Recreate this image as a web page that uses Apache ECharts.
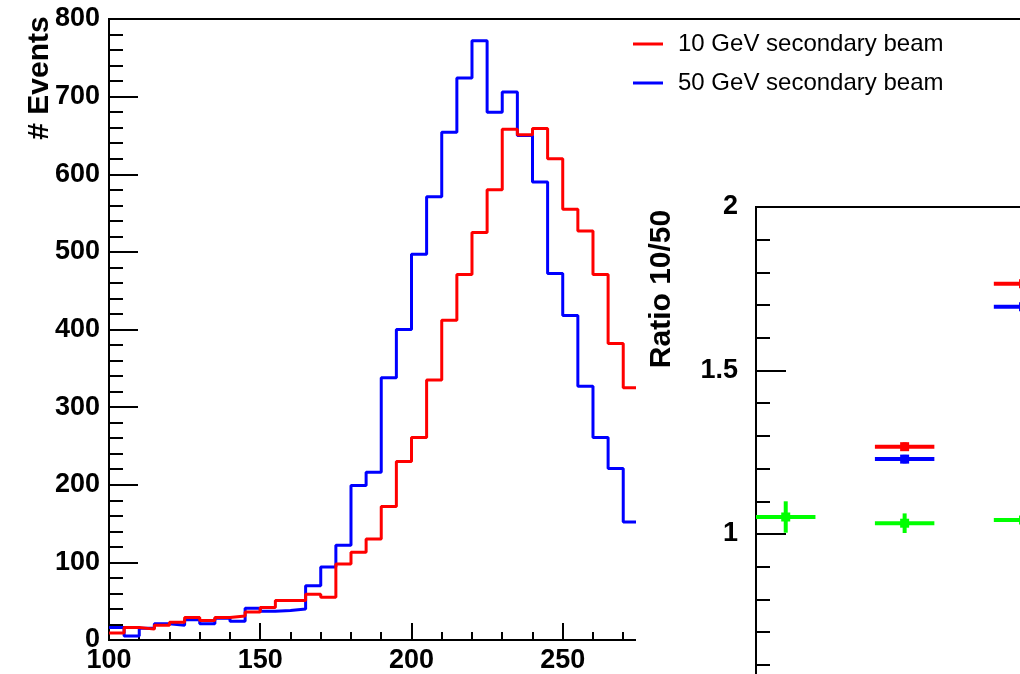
<!DOCTYPE html>
<html>
<head>
<meta charset="utf-8">
<script src="https://cdn.jsdelivr.net/npm/echarts@6/dist/echarts.min.js"></script>
<style>
html,body{margin:0;padding:0;background:#fff;}
#chart{width:1020px;height:674px;}
</style>
</head>
<body>
<div id="chart"></div>
<script>
// ---- data ----
const binStart = [100,105,110,115,120,125,130,135,140,145,150,155,160,165,170,175,180,185,190,195,200,205,210,215,220,225,230,235,240,245,250,255,260,265,270];
const binWidth = 5;
const events10GeV = [9,16,14,19,23,29,25,29,31,36,42,51,51,59,55,98,113,130,172,230,261,335,412,471,525,580,658,651,659,620,555,527,471,382,325];
const events50GeV = [16,5,15,21,19,26,21,28,24,41,37,38,40,70,94,122,199,216,338,400,497,571,654,724,772,680,706,650,590,472,418,327,261,221,152];

const ratioX = [1, 2, 3];
const ratioXErr = 0.25;
const ratioGreen = [1.052, 1.033, 1.043];
const ratioGreenErr = [0.048, 0.030, 0.030];
const ratioRed = [null, 1.267, 1.765];
const ratioRedErr = [null, 0.013, 0.013];
const ratioBlue = [null, 1.229, 1.695];
const ratioBlueErr = [null, 0.013, 0.013];
const ratioYTicks = [1, 1.5, 2];

const names = ['10 GeV secondary beam', '50 GeV secondary beam'];

// ---- helpers ----
function histData(vals) {
  const d = binStart.map((x, i) => [x, vals[i]]);
  d.push([binStart[binStart.length - 1] + binWidth, vals[vals.length - 1]]);
  return d;
}
function errData(ys, errs) {
  const out = [];
  ratioX.forEach((x, i) => { if (ys[i] != null) out.push([x, ys[i], errs[i]]); });
  return out;
}
function errRender(color) {
  return function (params, api) {
    const x = api.value(0), y = api.value(1), e = api.value(2);
    const l = api.coord([x - ratioXErr, y]);
    const r = api.coord([x + ratioXErr, y]);
    const c = api.coord([x, y]);
    const t = api.coord([x, y + e]);
    const b = api.coord([x, y - e]);
    const st = { stroke: color, lineWidth: 4 };
    return {
      type: 'group',
      children: [
        { type: 'line', shape: { x1: l[0], y1: l[1], x2: r[0], y2: r[1] }, style: st },
        { type: 'line', shape: { x1: t[0], y1: t[1], x2: b[0], y2: b[1] }, style: st },
        { type: 'rect', shape: { x: c[0] - 4.5, y: c[1] - 4.5, width: 9, height: 9 }, style: { fill: color } }
      ]
    };
  };
}

const FONT = 'Liberation Sans';
const labelStyle = { color: '#000', fontFamily: FONT, fontWeight: 'bold', fontSize: 27 };

const chart = echarts.init(document.getElementById('chart'), null, { renderer: 'canvas' });
chart.setOption({
  animation: false,
  backgroundColor: '#fff',
  grid: [
    { left: 109, top: 19, width: 922.6, height: 621, show: true, borderColor: '#000', borderWidth: 2,
      backgroundColor: 'transparent', outerBoundsMode: 'none', containLabel: false },
    { left: 756, top: 207, width: 327, height: 490.5, show: true, borderColor: '#000', borderWidth: 2,
      backgroundColor: 'transparent', z: 60, outerBoundsMode: 'none', containLabel: false }
  ],
  legend: {
    data: names,
    orient: 'vertical',
    left: 633, top: 32, padding: 0,
    icon: 'rect', itemWidth: 30, itemHeight: 3, itemGap: 15,
    textStyle: { color: '#000', fontFamily: FONT, fontSize: 24, lineHeight: 24, padding: [0, 0, 0, 10] },
    selectedMode: false
  },
  xAxis: [
    {
      type: 'value', gridIndex: 0, min: 100, max: 405, interval: 50,
      axisLine: { show: true, lineStyle: { color: '#000', width: 2 } },
      axisTick: { show: true, inside: true, length: 17, lineStyle: { color: '#000', width: 2 } },
      minorTick: { show: true, splitNumber: 5, length: 8, lineStyle: { color: '#000', width: 2 } },
      splitLine: { show: false },
      axisLabel: Object.assign({ margin: 7 }, labelStyle)
    },
    {
      type: 'value', gridIndex: 1, min: 0.75, max: 3.5, z: 60,
      axisLine: { show: true, lineStyle: { color: '#000', width: 2 } },
      axisTick: { show: false }, axisLabel: { show: false }, splitLine: { show: false }
    }
  ],
  yAxis: [
    {
      type: 'value', gridIndex: 0, min: 0, max: 800, interval: 100,
      axisLine: { show: true, lineStyle: { color: '#000', width: 2 } },
      axisTick: { show: true, inside: true, length: 29, lineStyle: { color: '#000', width: 2 } },
      minorTick: { show: true, splitNumber: 5, length: 14, lineStyle: { color: '#000', width: 2 } },
      splitLine: { show: false },
      axisLabel: Object.assign({ margin: 9 }, labelStyle)
    },
    {
      type: 'value', gridIndex: 1, min: 0.5, max: 2, interval: 0.5, z: 60,
      axisLine: { show: true, lineStyle: { color: '#000', width: 2 } },
      axisTick: { show: true, inside: true, length: 30, lineStyle: { color: '#000', width: 2 } },
      minorTick: { show: true, splitNumber: 5, length: 14, lineStyle: { color: '#000', width: 2 } },
      splitLine: { show: false },
      axisLabel: Object.assign({ margin: 18, formatter: v => (ratioYTicks.indexOf(v) >= 0 ? String(v) : '') }, labelStyle)
    }
  ],
  graphic: [
    { type: 'rect', z: 50, shape: { x: 636, y: 170, width: 400, height: 520 }, style: { fill: '#fff' } },
    { type: 'text', z: 60, x: 40, y: 78, rotation: Math.PI / 2,
      style: { text: '# Events', font: 'bold 30px "Liberation Sans"', fill: '#000', textAlign: 'center', textVerticalAlign: 'middle' } },
    { type: 'text', z: 60, x: 662, y: 289, rotation: Math.PI / 2,
      style: { text: 'Ratio 10/50', font: 'bold 30px "Liberation Sans"', fill: '#000', textAlign: 'center', textVerticalAlign: 'middle' } }
  ],
  series: [
    {
      name: names[1], type: 'line', xAxisIndex: 0, yAxisIndex: 0, step: 'end', showSymbol: false,
      data: histData(events50GeV), color: '#0000ff', lineStyle: { color: '#0000ff', width: 3 }, z: 2
    },
    {
      name: names[0], type: 'line', xAxisIndex: 0, yAxisIndex: 0, step: 'end', showSymbol: false,
      data: histData(events10GeV), color: '#ff0000', lineStyle: { color: '#ff0000', width: 3 }, z: 3
    },
    { type: 'custom', xAxisIndex: 1, yAxisIndex: 1, z: 61, data: errData(ratioGreen, ratioGreenErr), renderItem: errRender('#00ff00') },
    { type: 'custom', xAxisIndex: 1, yAxisIndex: 1, z: 61, data: errData(ratioBlue, ratioBlueErr), renderItem: errRender('#0000ff') },
    { type: 'custom', xAxisIndex: 1, yAxisIndex: 1, z: 62, data: errData(ratioRed, ratioRedErr), renderItem: errRender('#ff0000') }
  ]
});
</script>
</body>
</html>
